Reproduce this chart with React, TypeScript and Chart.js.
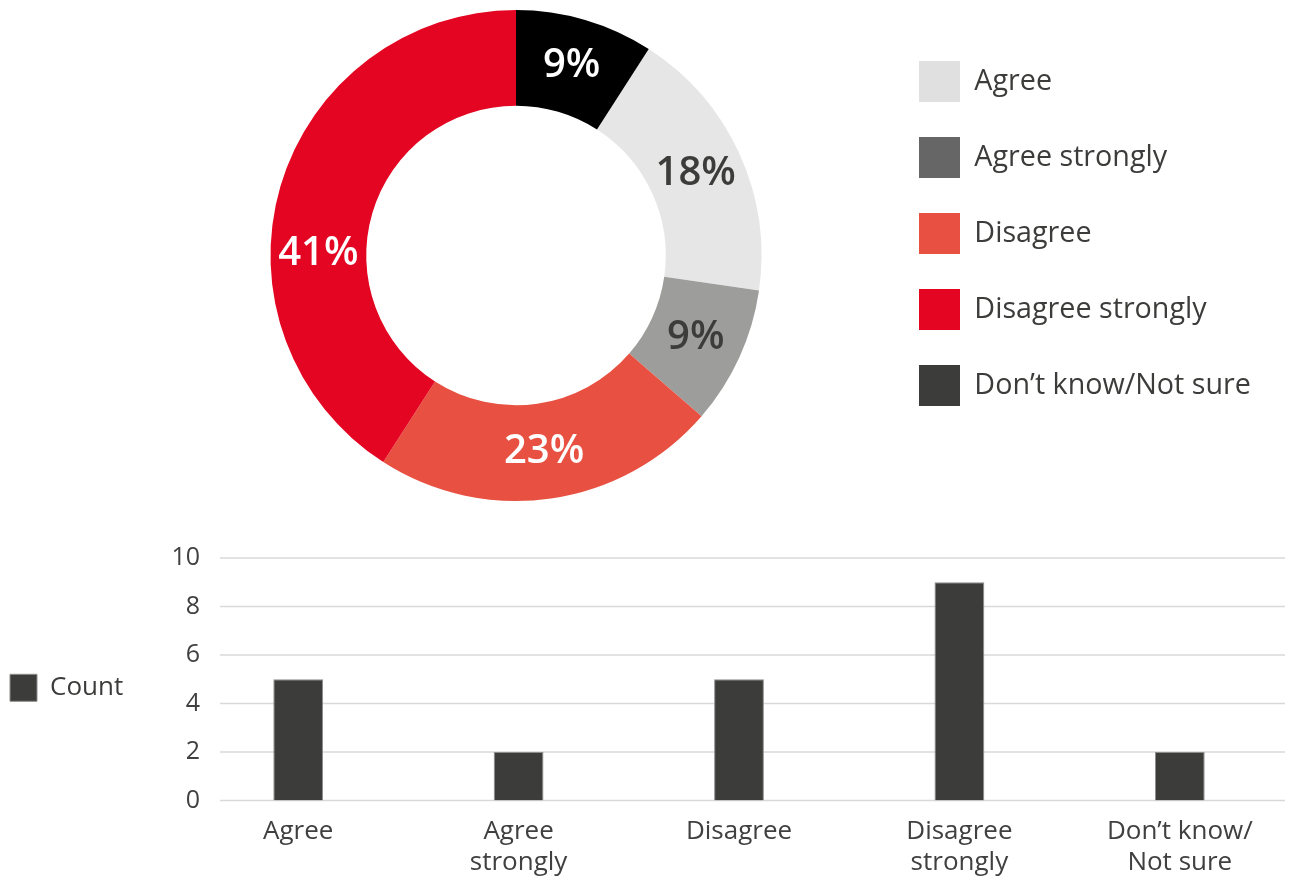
import React, { useEffect, useRef } from 'react';
import { Chart, registerables } from 'chart.js';

Chart.register(...registerables);

// ---------- data ----------
const pieLabels = ['Agree', 'Agree strongly', 'Disagree', 'Disagree strongly', 'Don’t know/Not sure'];
const pieValues = [4, 2, 5, 9, 2];
const sliceColors = ['#e6e6e6', '#9d9d9c', '#e85142', '#e30521', '#000000'];
const legendColors = ['#e0e0e0', '#666666', '#e85142', '#e30521', '#3c3c3b'];
const pctLabelColors = ['#3c3c3b', '#3c3c3b', '#ffffff', '#ffffff', '#ffffff'];
const pctLabelAngleNudge = [0, 0, 0, -15.7, 0];

const barCategories = [['Agree'], ['Agree', 'strongly'], ['Disagree'], ['Disagree', 'strongly'], ['Don’t know/', 'Not sure']];
const barValues = [5, 2, 5, 9, 2];
const barSeriesName = 'Count';
const yMin = 0;
const yMax = 10;
const yStep = 2;

const FONT = '"Open Sans", sans-serif';
const TEXT = '#3c3c3b';

function measure(text: string, font: string): number {
  const c = document.createElement('canvas').getContext('2d') as CanvasRenderingContext2D;
  c.font = font;
  return c.measureText(text).width;
}

const pctPlugin = {
  id: 'pctLabels',
  afterDatasetsDraw(chart: any) {
    const ctx = chart.ctx;
    const meta = chart.getDatasetMeta(0);
    const data = chart.data.datasets[0].data as number[];
    const total = data.reduce((a: number, b: number) => a + b, 0);
    ctx.save();
    ctx.font = `600 40px ${FONT}`;
    ctx.textAlign = 'center';
    ctx.textBaseline = 'middle';
    meta.data.forEach((arc: any, i: number) => {
      const p = arc.getProps(['x', 'y', 'startAngle', 'endAngle', 'innerRadius', 'outerRadius'], true);
      const mid = (p.startAngle + p.endAngle) / 2 + (pctLabelAngleNudge[i] * Math.PI) / 180;
      const r = (p.innerRadius + p.outerRadius) / 2;
      ctx.fillStyle = pctLabelColors[i];
      ctx.fillText(Math.round((data[i] / total) * 100) + '%', p.x + Math.cos(mid) * r, p.y + Math.sin(mid) * r);
    });
    ctx.restore();
  },
};

const gridPlugin = {
  id: 'shortGrid',
  beforeDatasetsDraw(chart: any) {
    const { ctx, chartArea, scales } = chart;
    const y = scales.y;
    ctx.save();
    ctx.strokeStyle = '#d9d9d9';
    ctx.lineWidth = 1.5;
    y.ticks.forEach((t: any) => {
      const py = y.getPixelForValue(t.value);
      ctx.beginPath();
      ctx.moveTo(chartArea.left + 32, py);
      ctx.lineTo(chartArea.right - 5, py);
      ctx.stroke();
    });
    ctx.restore();
  },
};

export default function App() {
  const pieRef = useRef<HTMLCanvasElement>(null);
  const barRef = useRef<HTMLCanvasElement>(null);

  useEffect(() => {
    const total = pieValues.reduce((a, b) => a + b, 0);
    const legendFont = 28.7;
    const longest = Math.max(...pieLabels.map((l) => measure(l, `${legendFont}px ${FONT}`)));
    const legendW = 35 + 41 + legendFont / 2 + longest + 10;
    const padR = Math.max(0, 1290 - 884 - legendW);

    const pie = new Chart(pieRef.current as HTMLCanvasElement, {
      type: 'doughnut',
      data: {
        labels: pieLabels,
        datasets: [{ data: pieValues, backgroundColor: sliceColors, borderWidth: 0 }],
      },
      options: {
        responsive: false,
        animation: false,
        rotation: (360 * pieValues[pieValues.length - 1]) / total,
        cutout: '61%',
        layout: { padding: { left: 148, right: padR, top: 10, bottom: 14 } },
        plugins: {
          tooltip: { enabled: false },
          legend: {
            position: 'right',
            align: 'start',
            title: { display: true, text: '', font: { size: 10 }, padding: { top: 0, bottom: 4 } },
            labels: {
              boxWidth: 41,
              boxHeight: 41,
              padding: 35,
              color: TEXT,
              font: { family: FONT, size: legendFont },
              generateLabels: () =>
                pieLabels.map((t, i) => ({
                  text: t,
                  fillStyle: legendColors[i],
                  strokeStyle: legendColors[i],
                  lineWidth: 0,
                  hidden: false,
                  index: i,
                  fontColor: TEXT,
                })),
            },
          },
        },
      } as any,
      plugins: [pctPlugin],
    });

    const barLegendFont = 26;
    const countW = measure(barSeriesName, `${barLegendFont}px ${FONT}`);
    const barLegendW = 10 + 27 + barLegendFont / 2 + countW + 10;
    const yAxisW = 188 - barLegendW;
    const yTickFont = 25;
    const widestTick = measure(String(yMax), `${yTickFont}px ${FONT}`);

    const bar = new Chart(barRef.current as HTMLCanvasElement, {
      type: 'bar',
      data: {
        labels: barCategories,
        datasets: [
          {
            label: barSeriesName,
            data: barValues,
            backgroundColor: '#3c3c3b',
            borderColor: '#8c8c8c',
            borderWidth: 1,
            barPercentage: 0.226,
            categoryPercentage: 1,
          },
        ],
      },
      options: {
        responsive: false,
        animation: false,
        layout: { padding: { top: 38, right: 0, left: 0, bottom: 0 } },
        scales: {
          x: {
            grid: { display: false },
            border: { display: false },
            ticks: {
              color: '#404040',
              font: { family: FONT, size: 26, lineHeight: 1.2 },
              padding: 7,
              maxRotation: 0,
              autoSkip: false,
            },
          },
          y: {
            min: yMin,
            max: yMax,
            grid: { display: false },
            border: { display: false },
            ticks: {
              stepSize: yStep,
              color: '#404040',
              font: { family: FONT, size: yTickFont },
              mirror: true,
              crossAlign: 'far',
              padding: 12 - widestTick,
            },
            afterFit: (s: any) => {
              s.width = yAxisW;
            },
          },
        },
        plugins: {
          tooltip: { enabled: false },
          legend: {
            position: 'left',
            align: 'center',
            fullSize: false,
            title: { display: true, text: '', font: { size: 10 }, padding: { top: 0, bottom: 5 } },
            labels: { boxWidth: 27, boxHeight: 27, padding: 10, color: TEXT, font: { family: FONT, size: barLegendFont } },
          },
        },
      } as any,
      plugins: [gridPlugin],
    });

    return () => {
      pie.destroy();
      bar.destroy();
    };
  }, []);

  return (
    <div style={{ position: 'absolute', left: 0, top: 0, width: 1290, height: 876, overflow: 'hidden', background: '#fff' }}>
      <canvas ref={pieRef} width={1290} height={515} style={{ position: 'absolute', left: 0, top: 0 }} />
      <canvas ref={barRef} width={1290} height={365} style={{ position: 'absolute', left: 0, top: 520 }} />
    </div>
  );
}
